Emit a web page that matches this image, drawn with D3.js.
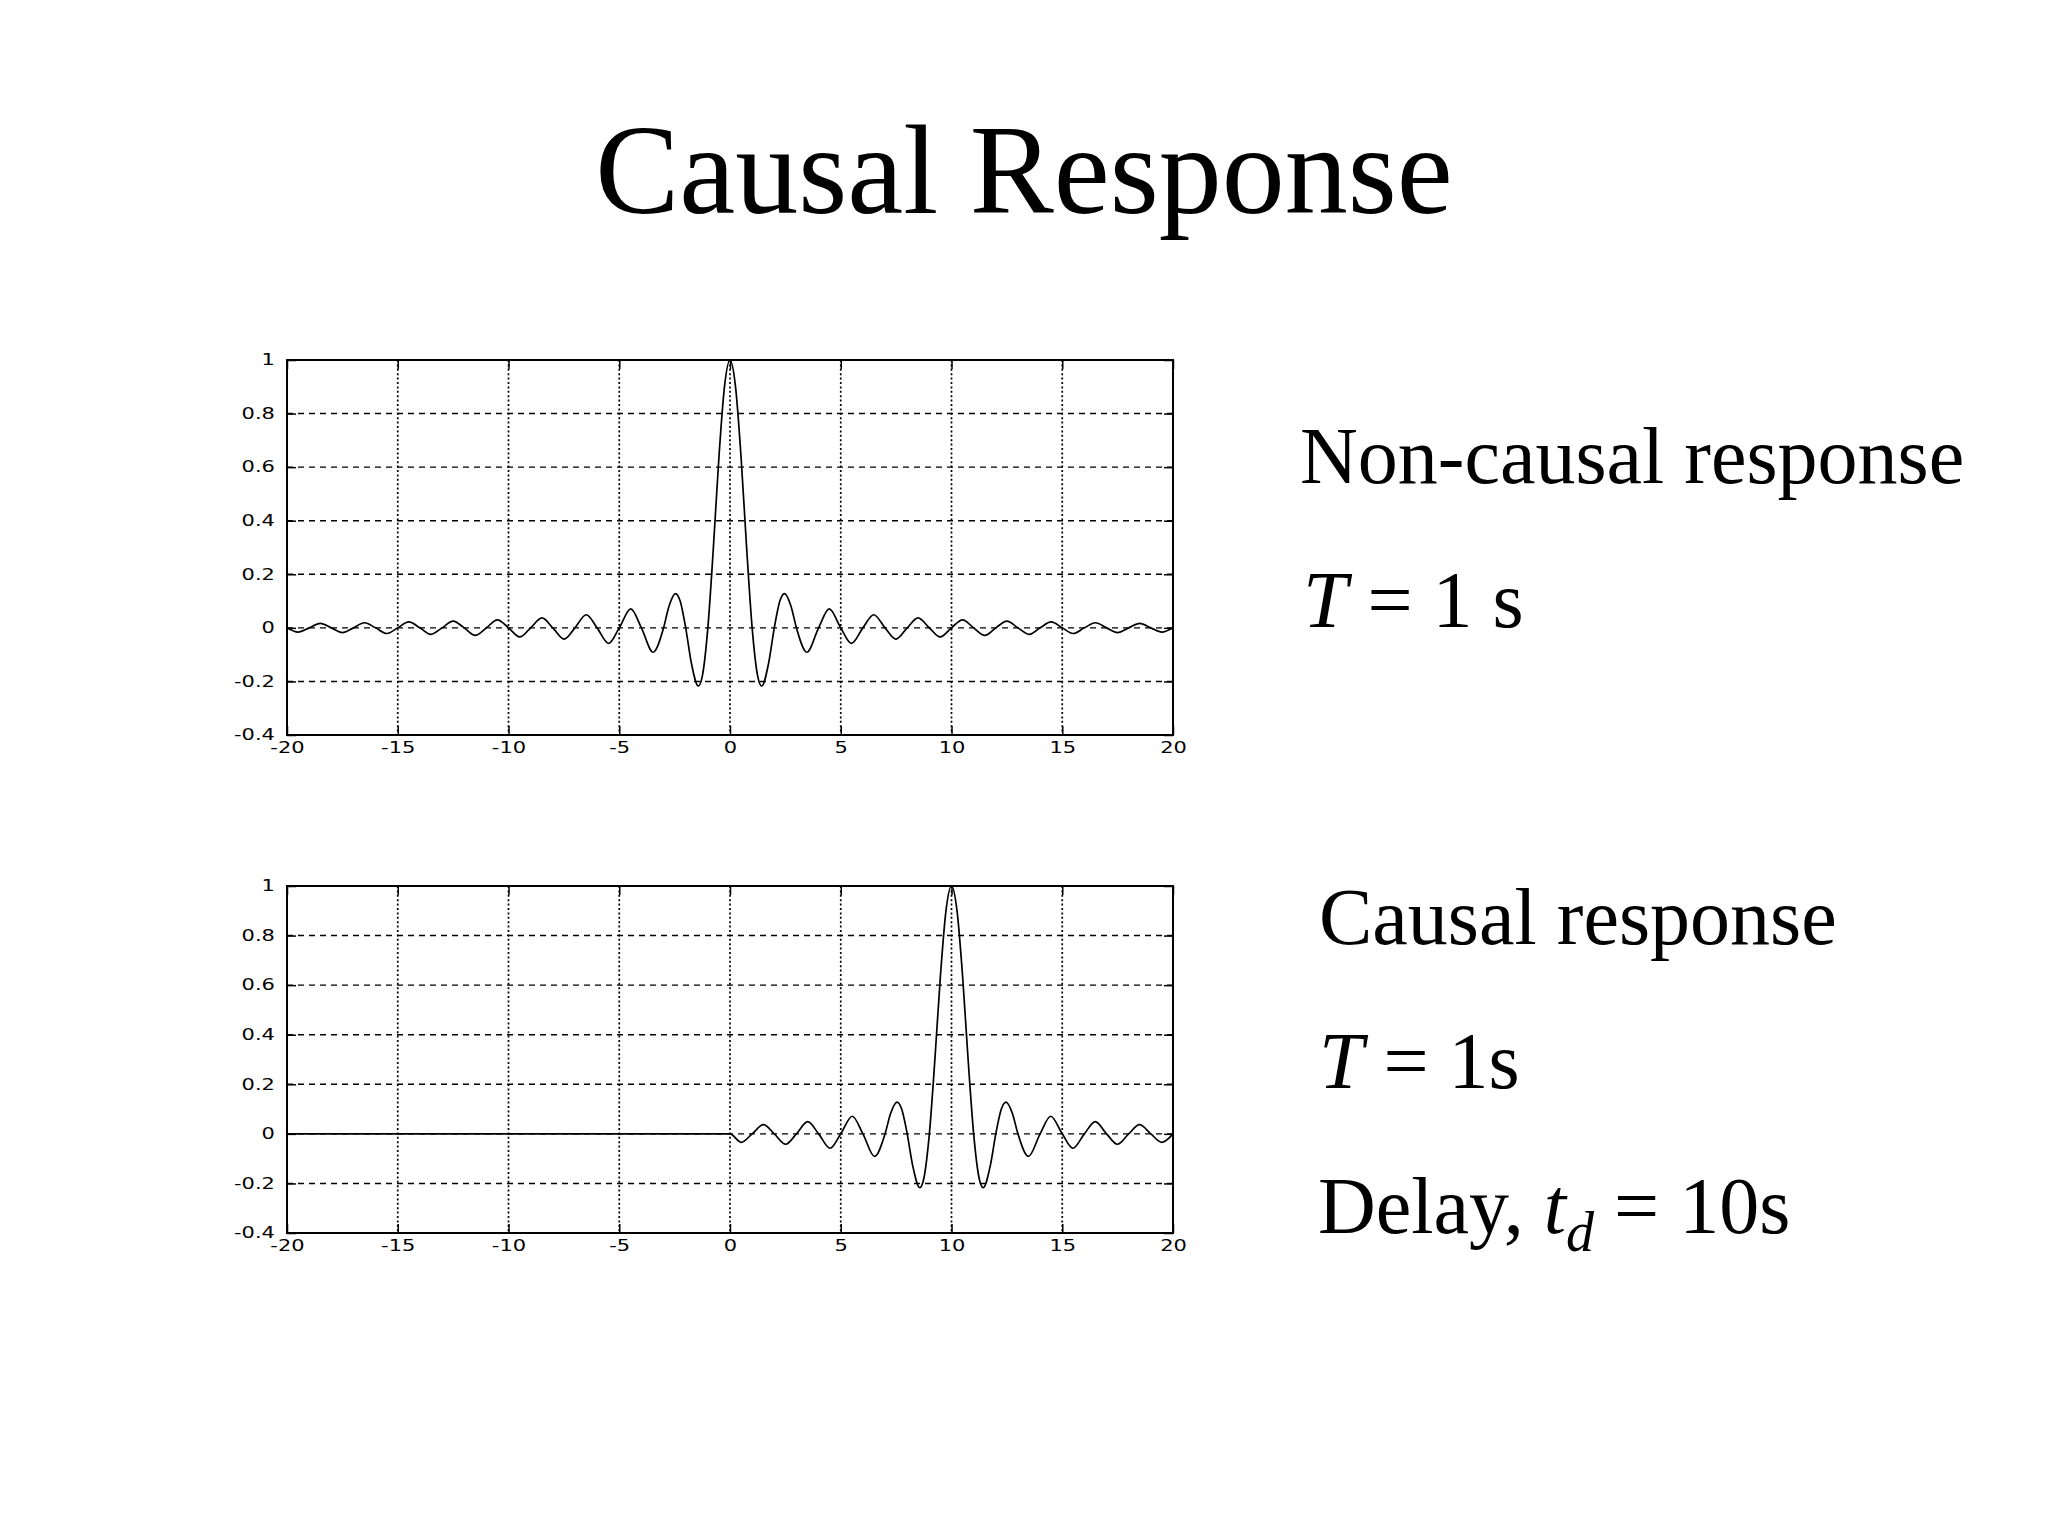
<!DOCTYPE html>
<html>
<head>
<meta charset="utf-8">
<script src="https://cdn.jsdelivr.net/npm/d3@7"></script>
<style>
  body { margin: 0; background: #fff; }
  svg { display: block; }
</style>
</head>
<body>
<svg id="slide"></svg>
<script>
// Axis ticks
const xTicks = [-20, -15, -10, -5, 0, 5, 10, 15, 20];
const xTickLabels = ['-20', '-15', '-10', '-5', '0', '5', '10', '15', '20'];
const yTicks = [-0.4, -0.2, 0, 0.2, 0.4, 0.6, 0.8, 1];
const yTickLabels = ['-0.4', '-0.2', '0', '0.2', '0.4', '0.6', '0.8', '1'];

// Pulse: time offset (s) and amplitude
const pulseOffset = [
  -20, -19.5, -19, -18.5, -18, -17.5, -17, -16.5, -16, -15.5, -15, -14.5, -14, -13.5, -13, -12.5, -12, -11.5, -11, -10.5, -10,
  -9.49, -9, -8.49, -8, -7.49, -7, -6.49, -6, -5.48, -5, -4.48, -4, -3.47, -3,
  -2.75, -2.46, -2.25, -2, -1.75, -1.43, -1.25, -1, -0.75, -0.5, -0.25,
  0, 0.25, 0.5, 0.75, 1, 1.25, 1.43, 1.75, 2, 2.25, 2.46, 2.75, 3,
  3.47, 4, 4.48, 5, 5.48, 6, 6.49, 7, 7.49, 8, 8.49, 9, 9.49, 10,
  10.5, 11, 11.5, 12, 12.5, 13, 13.5, 14, 14.5, 15, 15.5, 16, 16.5, 17, 17.5, 18, 18.5, 19, 19.5, 20
];
const pulseValue = [
  0, -0.016, 0, 0.017, 0, -0.018, 0, 0.019, 0, -0.021, 0, 0.022, 0, -0.024, 0, 0.025, 0, -0.028, 0, 0.030, 0,
  -0.034, 0, 0.037, 0, -0.042, 0, 0.049, 0, -0.058, 0, 0.071, 0, -0.091, 0,
  0.082, 0.128, 0.10, 0, -0.129, -0.217, -0.18, 0, 0.30, 0.637, 0.90,
  1, 0.90, 0.637, 0.30, 0, -0.18, -0.217, -0.129, 0, 0.10, 0.128, 0.082, 0,
  -0.091, 0, 0.071, 0, -0.058, 0, 0.049, 0, -0.042, 0, 0.037, 0, -0.034, 0,
  0.030, 0, -0.028, 0, 0.025, 0, -0.024, 0, 0.022, 0, -0.021, 0, 0.019, 0, -0.018, 0, 0.017, 0, -0.016, 0
];

// Delay of the causal version (s)
const delay = 10;

const W = 2048, H = 1536;
const svg = d3.select('#slide').attr('width', W).attr('height', H);
svg.append('rect').attr('width', W).attr('height', H).attr('fill', '#fff');

const serif = "'Times New Roman', 'Liberation Serif', serif";

// Title
svg.append('text')
  .attr('x', 1024).attr('y', 213)
  .attr('text-anchor', 'middle')
  .style('font-family', serif).style('font-size', '126px')
  .text('Causal Response');

// Series for both panels
const nonCausal = pulseOffset.map((o, i) => ({ t: o, v: pulseValue[i] }));
const causal = [{ t: -20, v: 0 }].concat(
  pulseOffset
    .map((o, i) => ({ t: o + delay, v: pulseValue[i] }))
    .filter(d => d.t >= 0 && d.t <= 20)
);

const left = 287, right = 1173;
const x = d3.scaleLinear().domain([-20, 20]).range([left, right]);

function drawPanel(top, bottom, data, id) {
  const y = d3.scaleLinear().domain([-0.4, 1]).range([bottom, top]);
  const g = svg.append('g');

  // Grid: vertical dotted, horizontal dashed
  g.selectAll('.vgrid')
    .data(xTicks.slice(1, -1))
    .enter().append('line')
    .attr('x1', d => x(d)).attr('x2', d => x(d))
    .attr('y1', top).attr('y2', bottom)
    .attr('stroke', '#000').attr('stroke-width', 1.7)
    .attr('stroke-dasharray', '2,2.4');

  g.selectAll('.hgrid')
    .data(yTicks.slice(1, -1))
    .enter().append('line')
    .attr('x1', left).attr('x2', right)
    .attr('y1', d => y(d)).attr('y2', d => y(d))
    .attr('stroke', '#000').attr('stroke-width', 1.4)
    .attr('stroke-dasharray', '6,5');

  // Axes with inward ticks
  const ax = g.append('g').attr('transform', `translate(0,${bottom})`)
    .call(d3.axisBottom(x).tickValues(xTicks).tickSizeInner(-9).tickSizeOuter(0).tickPadding(7)
      .tickFormat((d, i) => xTickLabels[i]));
  g.append('g').attr('transform', `translate(0,${top})`)
    .call(d3.axisTop(x).tickValues(xTicks).tickSizeInner(-9).tickSizeOuter(0).tickFormat(''));
  const ay = g.append('g').attr('transform', `translate(${left},0)`)
    .call(d3.axisLeft(y).tickValues(yTicks).tickSizeInner(-9).tickSizeOuter(0)
      .tickFormat((d, i) => yTickLabels[i]));
  g.append('g').attr('transform', `translate(${right},0)`)
    .call(d3.axisRight(y).tickValues(yTicks).tickSizeInner(-9).tickSizeOuter(0).tickFormat(''));

  g.selectAll('.domain').remove();
  g.selectAll('.tick line').attr('stroke', '#000').attr('stroke-width', 1.5);

  // Wide MATLAB-style tick labels
  ax.selectAll('text')
    .attr('fill', '#000')
    .style('font-family', "'DejaVu Sans', sans-serif").style('font-size', '15px')
    .attr('transform', 'scale(1.4,1)');
  ay.selectAll('text')
    .attr('fill', '#000')
    .attr('x', -8.6)
    .style('font-family', "'DejaVu Sans', sans-serif").style('font-size', '15px')
    .attr('transform', 'scale(1.4,1)');

  // Curve
  g.append('clipPath').attr('id', id)
    .append('rect').attr('x', left).attr('y', top - 2)
    .attr('width', right - left).attr('height', bottom - top + 4);

  g.append('path')
    .datum(data)
    .attr('clip-path', `url(#${id})`)
    .attr('fill', 'none')
    .attr('stroke', '#000')
    .attr('stroke-width', 1.7)
    .attr('d', d3.line().x(d => x(d.t)).y(d => y(d.v)).curve(d3.curveMonotoneX));

  // Frame
  g.append('rect')
    .attr('x', left).attr('y', top)
    .attr('width', right - left).attr('height', bottom - top)
    .attr('fill', 'none').attr('stroke', '#000').attr('stroke-width', 2);
}

drawPanel(360, 735, nonCausal, 'clipTop');
drawPanel(886, 1233, causal, 'clipBottom');

// Side notes
function note(xPos, yPos) {
  return svg.append('text')
    .attr('x', xPos).attr('y', yPos)
    .style('font-family', serif).style('font-size', '80px');
}

note(1300, 483).text('Non-causal response');
const t1 = note(1303, 627);
t1.append('tspan').style('font-style', 'italic').text('T');
t1.append('tspan').text(' = 1 s');

note(1319, 944).text('Causal response');
const t2 = note(1319, 1088);
t2.append('tspan').style('font-style', 'italic').text('T');
t2.append('tspan').text(' = 1s');

const t3 = note(1318, 1233);
t3.append('tspan').text('Delay, ');
t3.append('tspan').style('font-style', 'italic').text('t');
t3.append('tspan').style('font-style', 'italic').style('font-size', '56px').attr('dy', 18).text('d');
t3.append('tspan').attr('dy', -18).text(' = 10s');
</script>
</body>
</html>
